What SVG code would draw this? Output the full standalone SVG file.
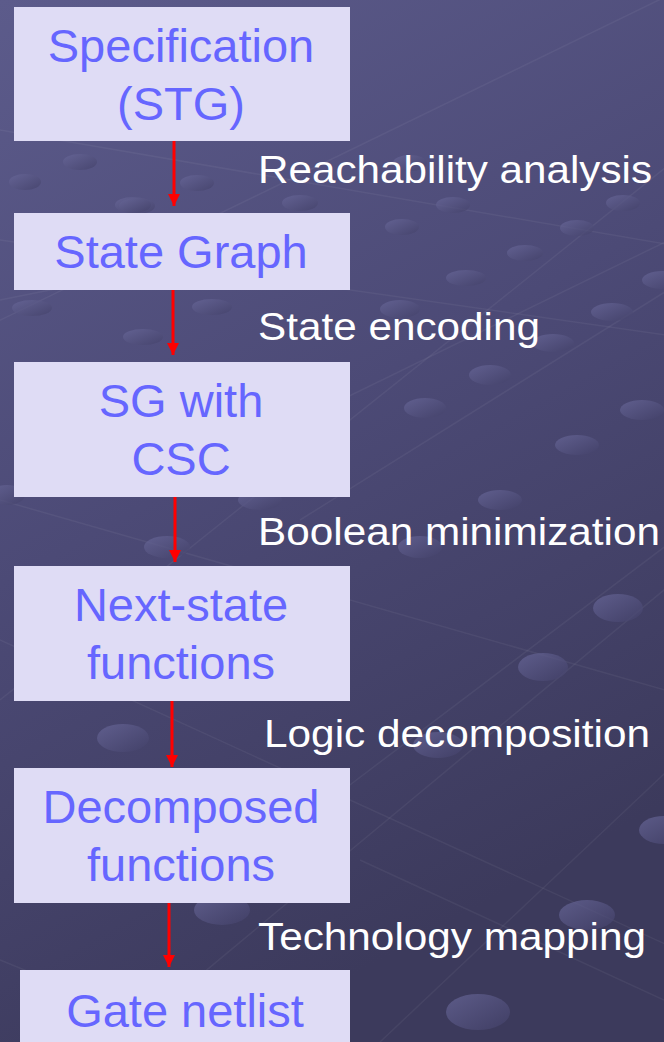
<svg xmlns="http://www.w3.org/2000/svg" width="664" height="1042" viewBox="0 0 664 1042">
  <defs>
    <linearGradient id="bg" x1="0" y1="0" x2="0.35" y2="1">
      <stop offset="0" stop-color="#5C5B8B"/>
      <stop offset="0.5" stop-color="#4C4A76"/>
      <stop offset="1" stop-color="#3C3A5C"/>
    </linearGradient>
    <linearGradient id="dot" x1="0" y1="0" x2="1" y2="1">
      <stop offset="0" stop-color="#6A699B"/>
      <stop offset="1" stop-color="#424068"/>
    </linearGradient>
    <marker id="head" markerUnits="userSpaceOnUse" markerWidth="12" markerHeight="12" refX="12" refY="6" orient="auto" viewBox="0 0 12 12">
      <path d="M0,0 L12,6 L0,12 Z" fill="#FF0000"/>
    </marker>
  </defs>
  <style>
    .grid { stroke: #FFFFFF; stroke-opacity: 0.05; stroke-width: 1.5; fill: none; }
    .dot { fill: url(#dot); opacity: 0.7; }
    .box { fill: #DFDCF5; }
    .boxtext { font-family: "Liberation Sans", Arial, sans-serif; font-size: 47px; fill: #6666FF; text-anchor: middle; }
    .label { font-family: "Liberation Sans", Arial, sans-serif; font-size: 39px; fill: #FFFFFF; }
    .edge { stroke: #FF0000; stroke-width: 3; fill: none; marker-end: url(#head); }
  </style>

  <!-- backdrop: perspective grid with dots -->
  <rect width="664" height="1042" fill="url(#bg)"/>
  <g id="backdrop-grid">
    <path class="grid" d="M-20,330 L700,-20"/>
    <path class="grid" d="M300,420 L700,225"/>
    <path class="grid" d="M300,520 L700,270"/>
    <path class="grid" d="M0,700 L700,140"/>
    <path class="grid" d="M330,800 L700,520"/>
    <path class="grid" d="M120,1042 L700,560"/>
    <path class="grid" d="M380,1042 L700,740"/>
    <path class="grid" d="M0,130 L700,250"/>
    <path class="grid" d="M0,240 L700,340"/>
    <path class="grid" d="M0,500 L700,700"/>
    <path class="grid" d="M0,640 L700,960"/>
    <path class="grid" d="M0,300 L200,260"/>
    <path class="grid" d="M0,960 L200,1042"/>
    <path class="grid" d="M360,860 L664,1000"/>
  </g>
  <g id="backdrop-dots">
    <ellipse class="dot" cx="80" cy="162" rx="17" ry="8"/>
    <ellipse class="dot" cx="197" cy="183" rx="17" ry="8"/>
    <ellipse class="dot" cx="137" cy="206" rx="18" ry="8"/>
    <ellipse class="dot" cx="300" cy="203" rx="18" ry="8"/>
    <ellipse class="dot" cx="25" cy="182" rx="16" ry="8"/>
    <ellipse class="dot" cx="410" cy="163" rx="17" ry="8"/>
    <ellipse class="dot" cx="453" cy="205" rx="17" ry="8"/>
    <ellipse class="dot" cx="623" cy="203" rx="17" ry="8"/>
    <ellipse class="dot" cx="402" cy="227" rx="17" ry="8"/>
    <ellipse class="dot" cx="577" cy="228" rx="17" ry="8"/>
    <ellipse class="dot" cx="525" cy="253" rx="18" ry="8"/>
    <ellipse class="dot" cx="466" cy="278" rx="20" ry="8"/>
    <ellipse class="dot" cx="662" cy="280" rx="20" ry="9"/>
    <ellipse class="dot" cx="400" cy="309" rx="20" ry="9"/>
    <ellipse class="dot" cx="612" cy="312" rx="21" ry="9"/>
    <ellipse class="dot" cx="553" cy="343" rx="21" ry="9"/>
    <ellipse class="dot" cx="490" cy="375" rx="21" ry="10"/>
    <ellipse class="dot" cx="425" cy="408" rx="21" ry="10"/>
    <ellipse class="dot" cx="642" cy="410" rx="22" ry="10"/>
    <ellipse class="dot" cx="577" cy="445" rx="22" ry="10"/>
    <ellipse class="dot" cx="32" cy="308" rx="20" ry="8"/>
    <ellipse class="dot" cx="212" cy="307" rx="20" ry="8"/>
    <ellipse class="dot" cx="143" cy="337" rx="20" ry="8"/>
    <ellipse class="dot" cx="133" cy="205" rx="18" ry="8"/>
    <ellipse class="dot" cx="167" cy="547" rx="23" ry="11"/>
    <ellipse class="dot" cx="260" cy="500" rx="22" ry="10"/>
    <ellipse class="dot" cx="7" cy="495" rx="18" ry="10"/>
    <ellipse class="dot" cx="420" cy="547" rx="22" ry="11"/>
    <ellipse class="dot" cx="500" cy="500" rx="22" ry="10"/>
    <ellipse class="dot" cx="618" cy="608" rx="25" ry="14"/>
    <ellipse class="dot" cx="543" cy="667" rx="25" ry="14"/>
    <ellipse class="dot" cx="438" cy="745" rx="25" ry="13"/>
    <ellipse class="dot" cx="664" cy="830" rx="25" ry="14"/>
    <ellipse class="dot" cx="123" cy="738" rx="26" ry="14"/>
    <ellipse class="dot" cx="222" cy="910" rx="28" ry="15"/>
    <ellipse class="dot" cx="587" cy="915" rx="28" ry="15"/>
    <ellipse class="dot" cx="478" cy="1012" rx="32" ry="18"/>
  </g>

  <!-- connectors -->
  <g id="connectors">
    <line class="edge" x1="174" y1="141" x2="174" y2="206"/>
    <line class="edge" x1="173" y1="290" x2="173" y2="355"/>
    <line class="edge" x1="175" y1="497" x2="175" y2="562"/>
    <line class="edge" x1="172" y1="701" x2="172" y2="767"/>
    <line class="edge" x1="169" y1="903" x2="169" y2="967"/>
  </g>

  <!-- edge labels -->
  <g id="edge-labels">
    <text class="label" x="258" y="183" textLength="394" lengthAdjust="spacingAndGlyphs">Reachability analysis</text>
    <text class="label" x="258" y="340" textLength="282" lengthAdjust="spacingAndGlyphs">State encoding</text>
    <text class="label" x="258" y="545" textLength="402" lengthAdjust="spacingAndGlyphs">Boolean minimization</text>
    <text class="label" x="264" y="747" textLength="386" lengthAdjust="spacingAndGlyphs">Logic decomposition</text>
    <text class="label" x="258" y="950" textLength="388" lengthAdjust="spacingAndGlyphs">Technology mapping</text>
  </g>

  <!-- nodes -->
  <g id="node-spec">
    <rect class="box" x="14" y="7" width="336" height="134"/>
    <text class="boxtext" x="181" y="62">Specification</text>
    <text class="boxtext" x="181" y="120">(STG)</text>
  </g>
  <g id="node-state-graph">
    <rect class="box" x="14" y="213" width="336" height="77"/>
    <text class="boxtext" x="181" y="268">State Graph</text>
  </g>
  <g id="node-sg-csc">
    <rect class="box" x="14" y="362" width="336" height="135"/>
    <text class="boxtext" x="181" y="417">SG with</text>
    <text class="boxtext" x="181" y="475">CSC</text>
  </g>
  <g id="node-next-state">
    <rect class="box" x="14" y="566" width="336" height="135"/>
    <text class="boxtext" x="181" y="621">Next-state</text>
    <text class="boxtext" x="181" y="679">functions</text>
  </g>
  <g id="node-decomposed">
    <rect class="box" x="14" y="768" width="336" height="135"/>
    <text class="boxtext" x="181" y="823">Decomposed</text>
    <text class="boxtext" x="181" y="881">functions</text>
  </g>
  <g id="node-netlist">
    <rect class="box" x="20" y="970" width="330" height="72"/>
    <text class="boxtext" x="185" y="1027">Gate netlist</text>
  </g>
</svg>
